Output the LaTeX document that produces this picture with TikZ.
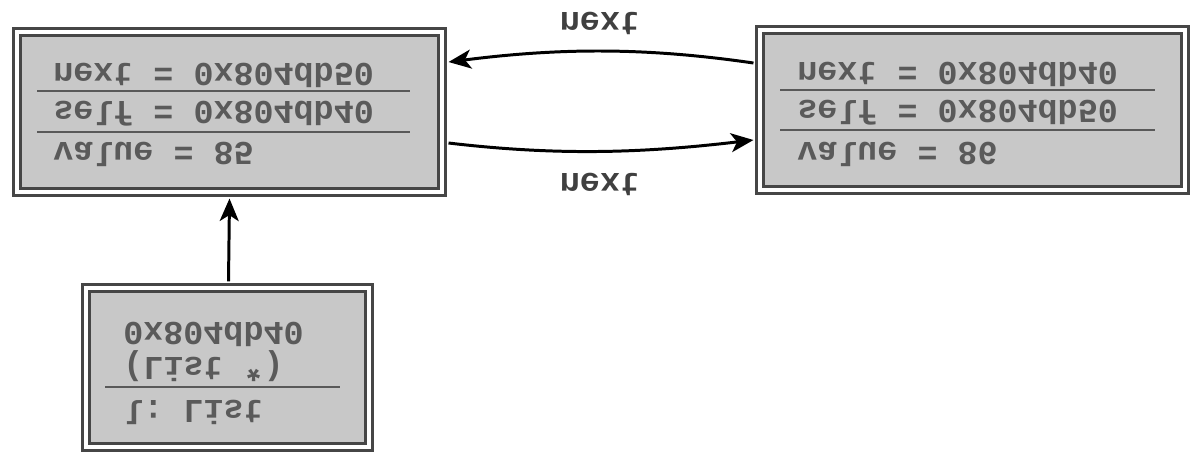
\documentclass[tikz,border=0pt]{standalone}
\usepackage{fontspec}
\setmonofont{Liberation Mono}
\usepackage{tikz}
\usetikzlibrary{arrows.meta,calc}
\definecolor{boxfill}{HTML}{C8C8C8}
\definecolor{boxline}{HTML}{464646}
\definecolor{txtgray}{HTML}{5A5A5A}

\begin{document}
\begin{tikzpicture}
	[
		x=0.02cm, y=0.02cm, yscale=-1,
		cell/.style = {rectangle, draw=boxline, line width=1.8pt, double=white, double distance=2.2pt, fill=boxfill, inner sep=0pt},
		field/.style = {anchor=base west, inner sep=0pt, transform shape, text=txtgray, font=\ttfamily\bfseries\fontsize{19}{21}\selectfont},
		tag/.style = {field, anchor=base, text=black!75},
		sep/.style = {draw=boxline!90, line width=1.6pt},
		link/.style = {draw=black, line width=1.7pt, -{Stealth[length=0.45cm, width=0.38cm, inset=0.12cm]}},
	]

	\useasboundingbox (0,0) rectangle (1200,464);

	% record boxes
	\node[cell, minimum width=8.5cm, minimum height=3.2cm] (first) 	at ( 229.5, 112.0 ) {};
	\node[cell, minimum width=8.5cm, minimum height=3.2cm] (second) at ( 972.5, 110.0 ) {};
	\node[cell, minimum width=5.66cm, minimum height=3.18cm] (head) at ( 227.5, 367.5 ) {};

	\foreach \xa/\xb/\y in {37/410/91, 37/410/132, 780/1155/90, 780/1155/130, 105/340/387}
	\draw[sep] (\xa,\y) -- (\xb,\y);

	% fields
	\node[field] (firstNext) 	at (  53,  63 ) {next = 0x804db50};
	\node[field] (firstSelf) 	at (  53, 101 ) {self = 0x804db40};
	\node[field] (firstValue) 	at (  53, 142 ) {value = 85};
	\node[field] (secondNext) 	at ( 797,  62 ) {next = 0x804db40};
	\node[field] (secondSelf) 	at ( 797, 100 ) {self = 0x804db50};
	\node[field] (secondValue) 	at ( 797, 142 ) {value = 86};
	\node[field] (headAddr) 	at ( 123, 322 ) {0x804db40};
	\node[field] (headType) 	at ( 123, 357 ) {(List *)};
	\node[field] (headName) 	at ( 123, 400 ) {l: List};

	% links
	\draw[link] ($(second.west)+(-5,-47)$) .. controls +(-110,-16) and +(110,-14) .. ($(first.east)+(5,-50)$);
	\draw[link] ($(first.east)+(5,31)$) .. controls +(110,13) and +(-110,13) .. ($(second.west)+(-5,30)$);
	\draw[link] ($(head.north)+(1,-5)$) -- ($(first.south)+(0,5)$);

	\node[tag] (topLabel) 		at ( 600,  12 ) {next};
	\node[tag] (bottomLabel) 	at ( 600, 173 ) {next};

	\end{tikzpicture}
\end{document}
